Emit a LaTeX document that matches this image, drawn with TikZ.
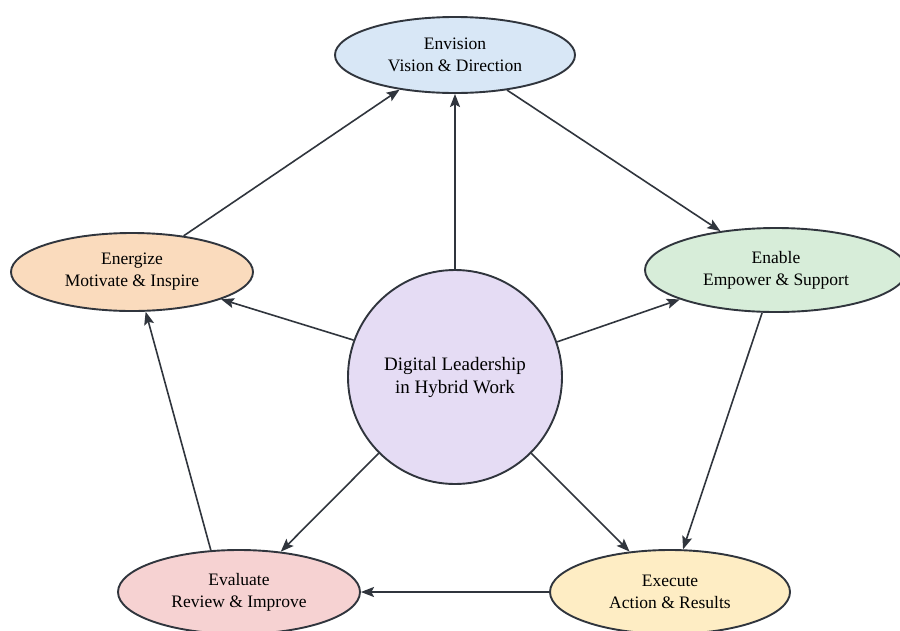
\documentclass[tikz,border=0pt]{standalone}
\usepackage{fontspec}
\setmainfont{Liberation Serif}
\usepackage{tikz}
\usetikzlibrary{arrows.meta,shapes.geometric}

\definecolor{envfill}{HTML}{D8E7F6}
\definecolor{enefill}{HTML}{FADBBD}
\definecolor{enafill}{HTML}{D7EDD9}
\definecolor{evafill}{HTML}{F6D2D2}
\definecolor{exefill}{HTML}{FEEDC4}
\definecolor{corefill}{HTML}{E5DCF4}
\definecolor{linegray}{HTML}{30353D}

\begin{document}
\begin{tikzpicture}[x=1pt,y=-1pt,>={Stealth[length=13pt,width=10pt,inset=2.5pt]},
phasebox/.style={ellipse,draw=linegray,line width=1.9pt,align=center,inner sep=0pt,minimum width=240pt,minimum height=78pt,font=\fontsize{17.5}{22}\selectfont},
corebox/.style={circle,draw=linegray,line width=1.9pt,align=center,minimum size=214pt,fill=corefill,font=\fontsize{19}{23}\selectfont},
flow/.style={->,draw=linegray,line width=1.6pt}]
\fill[white] (0,0) rectangle (900,630);
\useasboundingbox (0,0) rectangle (900,630);
\clip (0,0) rectangle (900,630);
\node[corebox] (core) at (455,377) {Digital Leadership\\in Hybrid Work};
\node[phasebox,fill=envfill,minimum height=76pt] (envision) at (455,55) {Envision\\Vision \& Direction};
\node[phasebox,fill=enefill,minimum width=242pt] (energize) at (132,272) {Energize\\Motivate \& Inspire};
\node[phasebox,fill=enafill,minimum width=262pt,minimum height=84pt] (enable) at (776,270) {Enable\\Empower \& Support};
\node[phasebox,fill=evafill,minimum width=242pt,minimum height=84pt] (evaluate) at (239,592) {Evaluate\\Review \& Improve};
\node[phasebox,fill=exefill,minimum height=84pt] (execute) at (670,592) {Execute\\Action \& Results};
\draw[flow] (core) -- (envision);
\draw[flow] (energize.35) -- (envision.212);
\draw[flow] (envision.-34) -- (enable.145);
\draw[flow] (core.160) -- (energize.-17);
\draw[flow] (core.19) -- (enable.197);
\draw[flow] (enable.252) -- (execute.73);
\draw[flow] (core.225) -- (evaluate.44);
\draw[flow] (core.315) -- (execute.135);
\draw[flow] (execute) -- (evaluate);
\draw[flow] (evaluate.124) -- (energize.289);
\end{tikzpicture}
\end{document}
